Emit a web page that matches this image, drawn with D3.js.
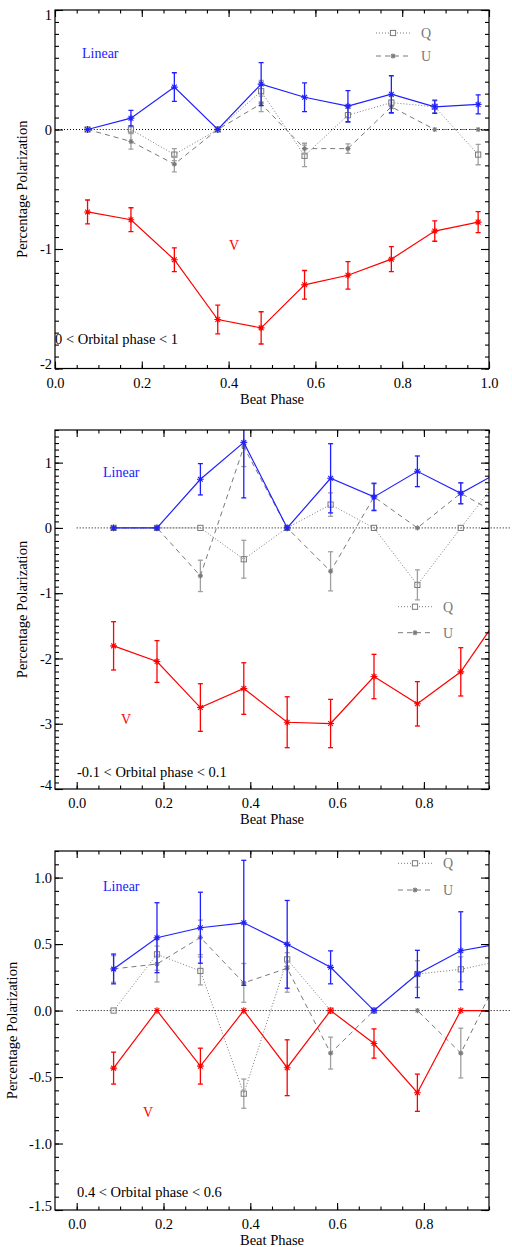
<!DOCTYPE html>
<html>
<head>
<meta charset="utf-8">
<script src="https://cdn.jsdelivr.net/npm/d3@7"></script>
<style>
    html, body { margin: 0; padding: 0; background: #fff; }
    svg text { font-family: 'Liberation Serif', 'Times New Roman', Times, serif !important; }
</style>
</head>
<body>
<div id="chart"></div>
<script>
// Panel 1: 0 < orbital phase < 1
const phase1 = [0.075, 0.175, 0.275, 0.375, 0.475, 0.575, 0.675, 0.775, 0.875, 0.975];
const lin1 = [0, 0.095, 0.355, 0, 0.38, 0.27, 0.195, 0.295, 0.19, 0.21];
const linErr1 = [0, 0.065, 0.12, 0, 0.18, 0.12, 0.13, 0.155, 0.055, 0.08];
const q1 = [0, 0, -0.21, 0, 0.32, -0.22, 0.12, 0.225, 0.19, -0.21];
const qErr1 = [0, 0.03, 0.05, 0, 0.09, 0.09, 0.06, 0.05, 0.05, 0.085];
const u1 = [0, -0.1, -0.29, 0, 0.215, -0.16, -0.16, 0.19, 0, 0];
const uErr1 = [0, 0.065, 0.065, 0, 0.065, 0.045, 0.04, 0.055, 0, 0];
const v1 = [-0.69, -0.755, -1.09, -1.59, -1.66, -1.30, -1.22, -1.085, -0.85, -0.775];
const vErr1 = [0.1, 0.1, 0.1, 0.12, 0.135, 0.12, 0.115, 0.105, 0.085, 0.088];

// Panel 2: -0.1 < orbital phase < 0.1
const phase2 = [0.085, 0.185, 0.285, 0.385, 0.485, 0.585, 0.685, 0.785, 0.885, 0.985];
const lin2 = [0, 0, 0.745, 1.31, 0, 0.76, 0.475, 0.867, 0.53, 0.90];
const linErr2 = [0, 0, 0.24, 0.85, 0, 0.53, 0.21, 0.235, 0.16, 0.2];
const q2 = [0, 0, 0, -0.48, 0, 0.357, 0, -0.873, 0, 0.86];
const qErr2 = [0, 0, 0, 0.29, 0, 0.18, 0, 0.23, 0, 0.2];
const u2 = [0, 0, -0.735, 1.24, 0, -0.665, 0.475, 0, 0.53, 0.16];
const uErr2 = [0, 0, 0.24, 0.3, 0, 0.3, 0.2, 0, 0.16, 0.2];
const v2 = [-1.807, -2.047, -2.752, -2.461, -2.977, -2.997, -2.277, -2.695, -2.205, -1.24];
const vErr2 = [0.37, 0.32, 0.365, 0.395, 0.39, 0.37, 0.34, 0.34, 0.37, 0.35];

// Panel 3: 0.4 < orbital phase < 0.6
const phase3 = [0.085, 0.185, 0.285, 0.385, 0.485, 0.585, 0.685, 0.785, 0.885, 0.985];
const lin3 = [0.313, 0.548, 0.623, 0.66, 0.498, 0.325, 0, 0.275, 0.45, 0.508];
const linErr3 = [0.112, 0.263, 0.267, 0.47, 0.33, 0.124, 0, 0.178, 0.293, 0.3];
const q3 = [0, 0.423, 0.298, -0.625, 0.385, 0, 0, 0.275, 0.31, 0.38];
const qErr3 = [0, 0.12, 0.105, 0.11, 0.05, 0, 0, 0.1, 0.094, 0.1];
const u3 = [0.313, 0.35, 0.55, 0.208, 0.318, -0.32, 0, 0, -0.32, 0.335];
const uErr3 = [0.1, 0.135, 0.13, 0.146, 0.18, 0.12, 0, 0, 0.187, 0.15];
const v3 = [-0.433, 0, -0.418, 0, -0.43, 0, -0.248, -0.618, 0, 0];
const vErr3 = [0.12, 0, 0.135, 0, 0.21, 0, 0.11, 0.14, 0, 0];

// Tick labels
const xTicks1 = [0, 0.2, 0.4, 0.6, 0.8, 1.0];
const xTicks23 = [0, 0.2, 0.4, 0.6, 0.8];
const yTicks1 = [-2, -1, 0, 1];
const yTicks2 = [-4, -3, -2, -1, 0, 1];
const yTicks3 = [-1.5, -1.0, -0.5, 0.0, 0.5, 1.0];
const rangeLabels = ["0 < Orbital phase < 1", "-0.1 < Orbital phase < 0.1", "0.4 < Orbital phase < 0.6"];

const BLUE = "#2020ff";
const RED = "#ff0000";
const GRAY = "#7a7a7a";
const GRAY_ERR = "#a0a0a0";
const FONT = "'Liberation Serif', 'Times New Roman', Times, serif";

const LEFT = 55, RIGHT = 489;

// plain hyphen for negatives, like the original plot
function fmt(spec) {
    let f = d3.format(spec);
    return function (d) { return f(d).replace("\u2212", "-"); };
}

let panels = [
    {
        top: 10, bottom: 368.5, xDomain: [0, 1], yDomain: [-2, 1],
        xTicks: xTicks1, yTicks: yTicks1, yFmt: fmt("d"),
        phase: phase1, lin: lin1, linErr: linErr1, q: q1, qErr: qErr1, u: u1, uErr: uErr1, v: v1, vErr: vErr1,
        label: rangeLabels[0], labelPos: [55, 344], linearPos: [82, 58], vPos: [229, 250],
        legend: [376, 33, 56, 421], yTitleX: 27, zeroClip: true
    },
    {
        top: 430, bottom: 789, xDomain: [-0.05, 0.95], yDomain: [-4, 1.5],
        xTicks: xTicks23, yTicks: yTicks2, yFmt: fmt("d"),
        phase: phase2, lin: lin2, linErr: linErr2, q: q2, qErr: qErr2, u: u2, uErr: uErr2, v: v2, vErr: vErr2,
        label: rangeLabels[1], labelPos: [77, 776.5], linearPos: [103, 476.5], vPos: [121, 724],
        legend: [398, 606.7, 632.7, 443], yTitleX: 27, zeroClip: false
    },
    {
        top: 851, bottom: 1210, xDomain: [-0.05, 0.95], yDomain: [-1.5, 1.2],
        xTicks: xTicks23, yTicks: yTicks3, yFmt: fmt(".1f"),
        phase: phase3, lin: lin3, linErr: linErr3, q: q3, qErr: qErr3, u: u3, uErr: uErr3, v: v3, vErr: vErr3,
        label: rangeLabels[2], labelPos: [77, 1196.5], linearPos: [103, 891], vPos: [143, 1116.5],
        legend: [398, 863.3, 890, 443], yTitleX: 17, zeroClip: false
    }
];

let svg = d3.select("#chart")
    .append("svg")
    .attr("width", 512)
    .attr("height", 1247)
    .attr("font-family", FONT);

// asterisk marker (plus + cross)
function asterisk(r) {
    let a = r * 0.7;
    return "M0," + (-r) + "V" + r + "M" + (-r) + ",0H" + r +
        "M" + (-a) + "," + (-a) + "L" + a + "," + a +
        "M" + (-a) + "," + a + "L" + a + "," + (-a);
}

function minorTicks(lo, hi, step) {
    let out = [];
    let n = Math.round((hi - lo) / step);
    for (let i = 0; i <= n; i++) out.push(+(lo + i * step).toFixed(4));
    return out;
}

panels.forEach(function (p, idx) {
    let x = d3.scaleLinear().domain(p.xDomain).range([LEFT, RIGHT]);
    let y = d3.scaleLinear().domain(p.yDomain).range([p.bottom, p.top]);
    let g = svg.append("g");

    // clip to the plot box
    let clipId = "clip" + idx;
    g.append("defs").append("clipPath")
        .attr("id", clipId)
        .append("rect")
        .attr("x", LEFT).attr("y", p.top)
        .attr("width", RIGHT - LEFT).attr("height", p.bottom - p.top);

    // zero line (black dotted)
    g.append("line")
        .attr("x1", x(0)).attr("x2", x(1))
        .attr("y1", y(0)).attr("y2", y(0))
        .attr("stroke", "#000").attr("stroke-width", 1)
        .attr("stroke-dasharray", "1,2")
        .attr("clip-path", p.zeroClip ? "url(#" + clipId + ")" : null);

    let plot = g.append("g").attr("clip-path", "url(#" + clipId + ")");

    function series(vals, errs, color, errColor, dash, marker, width) {
        let pts = p.phase.map(function (ph, i) {
            return {x: ph, y: vals[i], e: errs[i]};
        });
        let line = d3.line()
            .x(function (d) { return x(d.x); })
            .y(function (d) { return y(d.y); });
        plot.append("path")
            .datum(pts)
            .attr("fill", "none")
            .attr("stroke", color)
            .attr("stroke-width", width)
            .attr("stroke-dasharray", dash)
            .attr("d", line);

        let bars = plot.append("g")
            .attr("stroke", errColor)
            .attr("stroke-width", 1.3);
        pts.filter(function (d) { return d.e > 0; }).forEach(function (d) {
            let cx = x(d.x), y1 = y(d.y - d.e), y2 = y(d.y + d.e);
            bars.append("line").attr("x1", cx).attr("x2", cx).attr("y1", y1).attr("y2", y2);
            bars.append("line").attr("x1", cx - 2.5).attr("x2", cx + 2.5).attr("y1", y1).attr("y2", y1);
            bars.append("line").attr("x1", cx - 2.5).attr("x2", cx + 2.5).attr("y1", y2).attr("y2", y2);
        });

        pts.forEach(function (d) {
            let cx = x(d.x), cy = y(d.y);
            if (marker === "square") {
                plot.append("rect")
                    .attr("x", cx - 2.6).attr("y", cy - 2.6)
                    .attr("width", 5.2).attr("height", 5.2)
                    .attr("fill", "none").attr("stroke", color).attr("stroke-width", 1);
            } else {
                plot.append("path")
                    .attr("transform", "translate(" + cx + "," + cy + ")")
                    .attr("d", asterisk(marker === "small" ? 2.6 : 3.4))
                    .attr("fill", "none").attr("stroke", color).attr("stroke-width", 1.1);
            }
        });
    }

    series(p.q, p.qErr, GRAY, GRAY_ERR, "1,2", "square", 1);
    series(p.u, p.uErr, GRAY, GRAY_ERR, "5,4", "small", 1);
    series(p.lin, p.linErr, BLUE, BLUE, null, "star", 1.2);
    series(p.v, p.vErr, RED, RED, null, "star", 1.2);

    // Axes: ticks point inward on all four sides
    let xMinor = minorTicks(0, p.xDomain[1], 0.05);
    let yMinor = minorTicks(Math.ceil(p.yDomain[0] * 10) / 10, p.yDomain[1], 0.1);

    function axisGroup(axis, tx, ty) {
        let a = g.append("g")
            .attr("transform", "translate(" + tx + "," + ty + ")")
            .call(axis);
        a.attr("font-family", FONT).attr("font-size", 14.5);
        a.select(".domain").remove();
        a.selectAll("line").attr("stroke", "#000").attr("stroke-width", 1.1);
        a.selectAll("text").attr("fill", "#000");
        return a;
    }

    // bottom
    axisGroup(d3.axisBottom(x).tickValues(xMinor).tickSize(-3.5).tickFormat(""), 0, p.bottom);
    axisGroup(d3.axisBottom(x).tickValues(p.xTicks).tickSize(-7).tickPadding(9)
        .tickFormat(d3.format(".1f")), 0, p.bottom);
    // top
    axisGroup(d3.axisTop(x).tickValues(xMinor).tickSize(-3.5).tickFormat(""), 0, p.top);
    axisGroup(d3.axisTop(x).tickValues(p.xTicks).tickSize(-7).tickFormat(""), 0, p.top);
    // left
    axisGroup(d3.axisLeft(y).tickValues(yMinor).tickSize(-4).tickFormat(""), LEFT, 0);
    let yl = axisGroup(d3.axisLeft(y).tickValues(p.yTicks).tickSize(-8).tickPadding(3)
        .tickFormat(p.yFmt), LEFT, 0);
    // labels sitting on the box edges are nudged inside
    yl.selectAll(".tick text").attr("dy", function (d) {
        let py = y(d);
        if (Math.abs(py - p.top) < 3) return "0.62em";
        if (Math.abs(py - p.bottom) < 3) return "0.02em";
        return "0.32em";
    });
    // right
    axisGroup(d3.axisRight(y).tickValues(yMinor).tickSize(-4).tickFormat(""), RIGHT, 0);
    axisGroup(d3.axisRight(y).tickValues(p.yTicks).tickSize(-8).tickFormat(""), RIGHT, 0);

    // frame
    g.append("rect")
        .attr("x", LEFT).attr("y", p.top)
        .attr("width", RIGHT - LEFT).attr("height", p.bottom - p.top)
        .attr("fill", "none").attr("stroke", "#000").attr("stroke-width", 1.2);

    // axis titles
    g.append("text")
        .attr("x", (LEFT + RIGHT) / 2)
        .attr("y", p.bottom + 35)
        .attr("text-anchor", "middle")
        .attr("font-size", 14.5)
        .text("Beat Phase");
    g.append("text")
        .attr("transform", "translate(" + p.yTitleX + "," + (p.top + p.bottom) / 2 + ") rotate(-90)")
        .attr("text-anchor", "middle")
        .attr("font-size", 14.5)
        .text("Percentage Polarization");

    // annotations
    g.append("text")
        .attr("x", p.linearPos[0]).attr("y", p.linearPos[1])
        .attr("font-size", 14).attr("fill", BLUE)
        .text("Linear");
    g.append("text")
        .attr("x", p.vPos[0]).attr("y", p.vPos[1])
        .attr("font-size", 14).attr("fill", RED)
        .text("V");
    g.append("text")
        .attr("x", p.labelPos[0]).attr("y", p.labelPos[1])
        .attr("font-size", 14.5).attr("fill", "#000")
        .text(p.label);

    // legend
    let lx = p.legend[0], qy = p.legend[1], uy = p.legend[2], tx = p.legend[3];
    let leg = g.append("g");
    leg.append("line").attr("x1", lx).attr("x2", lx + 34).attr("y1", qy).attr("y2", qy)
        .attr("stroke", GRAY).attr("stroke-dasharray", "1,2");
    leg.append("rect").attr("x", lx + 17 - 2.6).attr("y", qy - 2.6).attr("width", 5.2).attr("height", 5.2)
        .attr("fill", "#fff").attr("stroke", GRAY);
    leg.append("text").attr("x", tx).attr("y", qy + 5).attr("font-size", 14).attr("fill", GRAY).text("Q");
    leg.append("line").attr("x1", lx).attr("x2", lx + 34).attr("y1", uy).attr("y2", uy)
        .attr("stroke", GRAY).attr("stroke-dasharray", "5,4");
    leg.append("path").attr("transform", "translate(" + (lx + 17) + "," + uy + ")")
        .attr("d", asterisk(2.6)).attr("fill", "none").attr("stroke", GRAY).attr("stroke-width", 1.1);
    leg.append("text").attr("x", tx).attr("y", uy + 5).attr("font-size", 14).attr("fill", GRAY).text("U");
});
</script>
</body>
</html>
